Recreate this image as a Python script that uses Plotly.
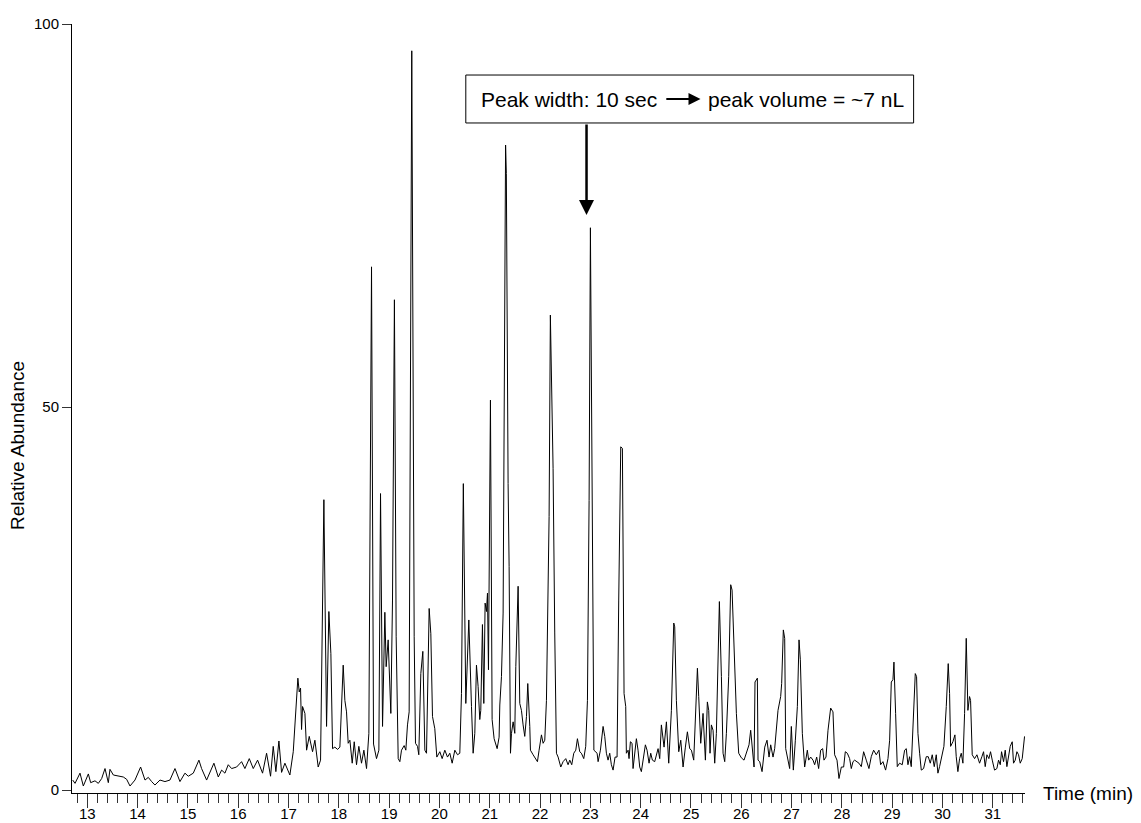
import plotly.graph_objects as go

# ---------------- data ----------------
# retention time (min) / relative abundance (%) -- early part 12.7-17.6 min
time_early = [12.710, 12.756, 12.855, 12.921, 13.021, 13.067, 13.153, 13.219, 13.286, 13.352,
              13.418, 13.451, 13.518, 13.617, 13.716, 13.782, 13.849, 13.948, 14.060, 14.147,
              14.213, 14.279, 14.345, 14.445, 14.544, 14.643, 14.743, 14.842, 14.941, 15.008,
              15.107, 15.219, 15.272, 15.372, 15.438, 15.517, 15.604, 15.670, 15.736, 15.802,
              15.869, 15.968, 16.067, 16.133, 16.220, 16.299, 16.385, 16.484, 16.564, 16.643,
              16.696, 16.749, 16.809, 16.862, 16.928, 17.027, 17.094, 17.186, 17.213, 17.239,
              17.259, 17.279, 17.326, 17.359, 17.412, 17.478, 17.524, 17.590, 17.637]
abund_early = [1.3, 0.87, 2.2, 0.52, 2.1, 0.96, 1.2, 0.87, 1.5, 2.8,
               0.96, 2.7, 1.96, 1.8, 1.7, 1.4, 0.52, 1.3, 3.0, 1.3,
               1.65, 1.1, 0.65, 1.3, 1.1, 1.3, 2.8, 1.1, 2.2, 1.8,
               2.2, 3.9, 2.8, 1.3, 2.2, 3.5, 1.7, 2.6, 2.2, 3.3,
               2.8, 3.0, 3.7, 2.8, 4.1, 2.8, 3.9, 2.2, 4.8, 1.8,
               5.7, 2.4, 6.4, 2.3, 3.5, 1.96, 5.0, 14.6, 12.8, 13.3,
               7.9, 10.9, 10.0, 5.2, 7.0, 5.0, 6.5, 3.0, 3.9]

# main elution window 17.7-24.3 min
time_main = [17.703, 17.756, 17.802, 17.842, 17.875, 17.921, 17.975, 18.021, 18.087, 18.120,
             18.153, 18.186, 18.220, 18.266, 18.306, 18.352, 18.398, 18.451, 18.498, 18.551,
             18.597, 18.650, 18.690, 18.749, 18.796, 18.829, 18.869, 18.915, 18.941, 18.981,
             19.034, 19.067, 19.105, 19.140, 19.180, 19.213, 19.246, 19.299, 19.332, 19.365,
             19.398, 19.450, 19.498, 19.524, 19.564, 19.590, 19.630, 19.670, 19.710, 19.743,
             19.796, 19.829, 19.862, 19.908, 19.948, 20.008, 20.054, 20.107, 20.160, 20.206,
             20.253, 20.306, 20.359, 20.405, 20.438, 20.475, 20.524, 20.584, 20.617, 20.637,
             20.670, 20.703, 20.736, 20.769, 20.802, 20.822, 20.855, 20.882, 20.908, 20.935,
             20.955, 20.975, 21.014, 21.047, 21.087, 21.147, 21.186, 21.200, 21.233, 21.266,
             21.315, 21.330, 21.365, 21.385, 21.412, 21.432, 21.465, 21.498, 21.518, 21.564,
             21.597, 21.630, 21.663, 21.696, 21.730, 21.756, 21.796, 21.809, 21.862, 21.915,
             21.948, 21.981, 22.028, 22.061, 22.094, 22.127, 22.180, 22.205, 22.259, 22.292,
             22.326, 22.359, 22.412, 22.458, 22.511, 22.557, 22.591, 22.630, 22.670, 22.710,
             22.743, 22.789, 22.822, 22.869, 22.908, 22.942, 22.975, 23.001, 23.040, 23.070,
             23.134, 23.154, 23.200, 23.253, 23.286, 23.319, 23.352, 23.385, 23.418, 23.452,
             23.491, 23.531, 23.564, 23.604, 23.637, 23.670, 23.703, 23.716, 23.750, 23.769,
             23.796, 23.829, 23.849, 23.882, 23.915, 23.948, 23.981, 24.014, 24.048, 24.094,
             24.127, 24.167, 24.200, 24.233, 24.279]
abund_main = [37.9, 8.3, 23.3, 17.8, 5.4, 5.6, 5.3, 5.6, 16.3, 11.7,
              10.2, 6.1, 6.5, 3.5, 6.3, 3.3, 5.7, 3.5, 5.2, 2.8,
              7.4, 68.3, 6.0, 4.1, 5.2, 38.7, 8.3, 23.2, 16.1, 19.6,
              10.0, 24.8, 64.0, 20.0, 4.1, 3.7, 5.2, 5.8, 5.2, 8.5,
              10.2, 96.5, 20.0, 6.1, 5.7, 4.6, 15.2, 18.1, 5.2, 4.8,
              23.7, 20.4, 9.6, 8.0, 4.3, 5.0, 4.1, 5.2, 4.3, 4.8,
              3.5, 5.2, 4.6, 4.8, 12.6, 40.0, 11.3, 22.2, 12.6, 10.9,
              4.8, 7.4, 16.3, 13.5, 9.2, 10.4, 21.6, 11.3, 24.4, 23.3,
              25.7, 15.7, 50.9, 9.2, 6.7, 5.4, 6.9, 11.1, 14.8, 23.1,
              84.2, 80.5, 40.0, 29.2, 4.8, 7.4, 8.9, 7.4, 16.1, 26.6,
              11.3, 10.4, 8.5, 7.0, 9.6, 13.9, 8.3, 5.2, 4.6, 4.1,
              3.7, 5.2, 7.2, 6.1, 6.5, 11.7, 35.7, 62.0, 42.0, 20.5,
              4.8, 4.3, 3.0, 3.7, 4.1, 3.3, 3.9, 3.3, 4.8, 5.2,
              6.7, 5.0, 4.8, 4.1, 5.7, 11.7, 37.8, 73.4, 30.0, 5.2,
              4.8, 3.7, 5.2, 8.3, 7.0, 4.8, 3.9, 4.8, 3.3, 2.6,
              4.3, 4.3, 24.8, 44.8, 44.6, 12.6, 10.9, 4.8, 5.2, 4.1,
              6.3, 6.1, 2.8, 4.8, 6.7, 5.2, 3.0, 2.4, 3.7, 5.9,
              5.2, 3.5, 4.8, 3.9, 3.7]

# late part 24.3-31.6 min
time_late = [24.346, 24.379, 24.412, 24.465, 24.512, 24.558, 24.611, 24.658, 24.677, 24.710,
             24.757, 24.797, 24.843, 24.889, 24.929, 24.975, 25.009, 25.055, 25.088, 25.128,
             25.154, 25.194, 25.240, 25.287, 25.326, 25.353, 25.379, 25.406, 25.439, 25.472,
             25.505, 25.565, 25.605, 25.638, 25.671, 25.704, 25.750, 25.790, 25.817, 25.843,
             25.856, 25.903, 25.949, 26.002, 26.055, 26.101, 26.154, 26.187, 26.220, 26.254,
             26.273, 26.320, 26.333, 26.366, 26.413, 26.466, 26.512, 26.552, 26.585, 26.631,
             26.664, 26.730, 26.783, 26.803, 26.836, 26.863, 26.883, 26.929, 26.962, 26.995,
             27.035, 27.075, 27.115, 27.148, 27.174, 27.214, 27.260, 27.313, 27.340, 27.380,
             27.426, 27.459, 27.499, 27.538, 27.578, 27.618, 27.644, 27.684, 27.724, 27.777,
             27.823, 27.856, 27.903, 27.942, 27.989, 28.035, 28.068, 28.108, 28.154, 28.187,
             28.221, 28.254, 28.300, 28.339, 28.386, 28.432, 28.485, 28.538, 28.584, 28.631,
             28.684, 28.737, 28.770, 28.816, 28.869, 28.916, 28.949, 28.982, 29.015, 29.035,
             29.068, 29.101, 29.147, 29.200, 29.247, 29.280, 29.313, 29.346, 29.379, 29.412,
             29.459, 29.485, 29.512, 29.545, 29.578, 29.624, 29.677, 29.717, 29.757, 29.796,
             29.836, 29.876, 29.909, 29.942, 29.995, 30.028, 30.075, 30.114, 30.141, 30.161,
             30.207, 30.247, 30.273, 30.306, 30.340, 30.373, 30.406, 30.439, 30.472, 30.505,
             30.538, 30.558, 30.591, 30.638, 30.684, 30.737, 30.783, 30.816, 30.849, 30.883,
             30.922, 30.955, 30.989, 31.035, 31.081, 31.114, 31.148, 31.174, 31.214, 31.247,
             31.280, 31.313, 31.346, 31.386, 31.412, 31.446, 31.479, 31.512, 31.545, 31.585,
             31.598, 31.631]
abund_late = [5.4, 4.1, 8.5, 5.6, 8.9, 3.5, 10.4, 21.8, 21.3, 11.7,
              5.0, 6.5, 3.0, 5.6, 7.6, 5.4, 5.2, 3.9, 10.4, 15.9,
              12.2, 6.1, 10.0, 3.9, 11.5, 10.4, 4.8, 8.5, 7.8, 3.5,
              7.4, 24.6, 14.8, 4.8, 3.7, 7.4, 14.8, 26.8, 26.1, 20.9,
              17.8, 10.0, 4.8, 4.2, 3.9, 4.8, 5.9, 7.8, 4.8, 3.0,
              14.1, 14.6, 3.9, 3.7, 2.4, 5.6, 6.5, 4.3, 5.9, 4.3,
              5.4, 10.4, 12.2, 13.9, 20.9, 19.8, 5.4, 3.9, 2.8, 8.3,
              2.6, 6.5, 10.9, 19.6, 17.0, 7.4, 3.0, 5.2, 3.9, 4.3,
              3.9, 3.3, 4.3, 2.8, 5.2, 5.4, 3.9, 4.3, 7.8, 10.7,
              10.2, 4.6, 3.9, 1.5, 3.0, 3.0, 5.0, 4.8, 4.1, 2.8,
              3.7, 3.9, 3.7, 3.5, 3.05, 5.0, 3.9, 2.8, 4.35, 5.2,
              4.6, 5.2, 3.3, 3.7, 2.6, 4.1, 6.5, 14.1, 14.4, 16.7,
              10.0, 3.05, 3.5, 3.3, 5.2, 5.4, 3.3, 4.35, 3.05, 8.2,
              15.2, 14.8, 7.4, 4.8, 2.6, 2.8, 4.35, 4.35, 3.5, 4.6,
              3.05, 4.6, 2.2, 3.05, 4.8, 5.7, 10.9, 16.5, 12.6, 5.7,
              6.3, 7.2, 4.35, 2.4, 4.1, 4.8, 3.5, 10.0, 19.8, 10.4,
              12.2, 11.7, 4.6, 4.1, 4.6, 3.5, 4.35, 5.0, 3.05, 4.6,
              4.1, 5.0, 3.9, 2.6, 2.8, 3.9, 3.3, 5.0, 3.7, 5.2,
              3.05, 4.6, 5.7, 6.3, 3.5, 3.9, 5.0, 4.6, 3.5, 4.1,
              4.8, 7.0]

x_ticks = [13, 14, 15, 16, 17, 18, 19, 20, 21, 22, 23, 24, 25, 26, 27, 28, 29, 30, 31]
y_ticks = [0, 50, 100]

note_left = "Peak width: 10 sec"
note_right = "peak volume = ~7 nL"
x_title = "Time (min)"
y_title = "Relative Abundance"

# ---------------- figure ----------------
FONT = "Arial, 'Liberation Sans', Helvetica, sans-serif"

time_all = time_early + time_main + time_late
abund_all = abund_early + abund_main + abund_late

fig = go.Figure()
fig.add_trace(go.Scatter(x=time_all, y=abund_all, mode="lines",
                         line=dict(color="black", width=1), hoverinfo="skip",
                         showlegend=False))

fig.update_layout(
    width=1141, height=823,
    margin=dict(l=72, r=116, t=24, b=30),
    paper_bgcolor="white", plot_bgcolor="white",
    font=dict(family=FONT, color="black"),
    xaxis=dict(range=[12.696, 31.64], tickmode="array", tickvals=x_ticks,
               ticktext=[str(v) for v in x_ticks],
               ticks="outside", ticklen=14, tickwidth=1, tickcolor="#333",
               ticklabelstandoff=-7,
               showline=True, linecolor="black", linewidth=1,
               showgrid=False, zeroline=False, automargin=False,
               tickfont=dict(size=15, family=FONT, color="black"),
               minor=dict(dtick=0.2, tick0=13, ticks="outside", ticklen=9,
                          tickwidth=1, tickcolor="#333", showgrid=False)),
    yaxis=dict(range=[-0.39, 100], tickmode="array", tickvals=y_ticks,
               ticks="outside", ticklen=9, tickwidth=1, tickcolor="#333",
               showline=True, linecolor="black", linewidth=1,
               showgrid=False, zeroline=False, automargin=False,
               tickfont=dict(size=15, family=FONT, color="black")),
)

# axis titles
fig.add_annotation(text=x_title, xref="paper", yref="paper", x=1.017, y=0,
                   xanchor="left", yanchor="middle", showarrow=False,
                   font=dict(size=19, family=FONT, color="black"))
fig.add_annotation(text=y_title, xref="paper", yref="y", x=-0.057, y=45.0,
                   xanchor="center", yanchor="middle", textangle=-90, showarrow=False,
                   font=dict(size=19, family=FONT, color="black"))

# note box
fig.add_shape(type="rect", xref="x", yref="y", x0=20.524, x1=29.426, y0=87.08, y1=93.34,
              line=dict(color="black", width=1), fillcolor="white", layer="above")
fig.add_annotation(text=note_left, xref="x", yref="y", x=20.79, y=90.2,
                   xanchor="left", yanchor="middle", showarrow=False,
                   font=dict(size=21, family=FONT, color="black"))
fig.add_annotation(text=note_right, xref="x", yref="y", x=29.27, y=90.2,
                   xanchor="right", yanchor="middle", showarrow=False,
                   font=dict(size=21, family=FONT, color="black"))
# small arrow inside the box
fig.add_annotation(x=25.19, y=90.2, ax=24.48, ay=90.2, xref="x", yref="y",
                   axref="x", ayref="y", text="", showarrow=True,
                   arrowhead=2, arrowsize=1.2, arrowwidth=2, arrowcolor="black")
# vertical arrow to the peak
fig.add_annotation(x=22.924, y=75.07, ax=22.924, ay=87.08, xref="x", yref="y",
                   axref="x", ayref="y", text="", showarrow=True,
                   arrowhead=2, arrowsize=1.2, arrowwidth=2.5, arrowcolor="black")

fig.write_html("out.html", config={"displayModeBar": False},
               post_script="document.body.style.margin='0px';"
                           "document.body.style.overflow='hidden';")
